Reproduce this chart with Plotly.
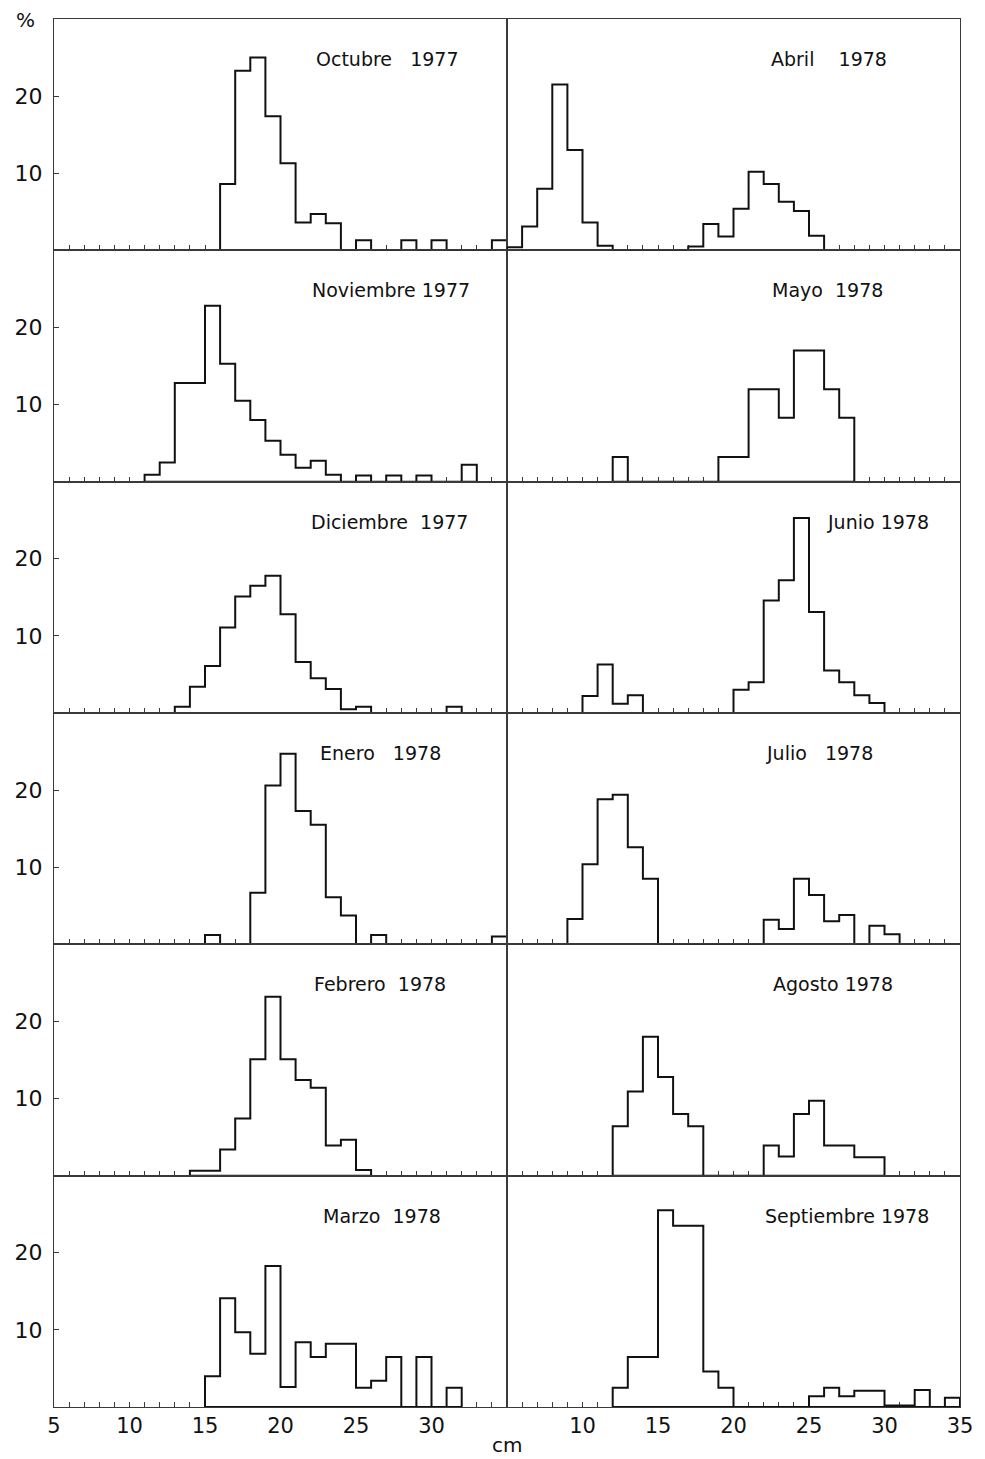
import plotly.graph_objects as go
from plotly.subplots import make_subplots

# Length-frequency distributions (% per 1-cm class).
# Each series starts at the lower edge of its first class (cm).
octubre_1977_start = 16
octubre_1977 = [8.6, 23.3, 25.0, 17.4, 11.3, 3.6, 4.7, 3.5, 0, 1.3, 0, 0, 1.3, 0, 1.3, 0, 0, 0, 1.3]

noviembre_1977_start = 11
noviembre_1977 = [0.9, 2.5, 12.8, 12.8, 22.8, 15.3, 10.5, 8.0, 5.3, 3.5, 1.8, 2.7, 0.9,
                  0, 0.8, 0, 0.8, 0, 0.8, 0, 0, 2.2]

diciembre_1977_start = 13
diciembre_1977 = [0.8, 3.4, 6.1, 11.1, 15.1, 16.5, 17.8, 12.8, 6.6, 4.5, 3.1, 0.5, 0.8,
                  0, 0, 0, 0, 0, 0.8]

enero_1978_start = 15
enero_1978 = [1.2, 0, 0, 6.7, 20.6, 24.7, 17.3, 15.5, 6.1, 3.75, 0, 1.2,
              0, 0, 0, 0, 0, 0, 0, 1.0]

febrero_1978_start = 14
febrero_1978 = [0.65, 0.65, 3.4, 7.4, 15.1, 23.2, 15.1, 12.4, 11.4, 3.9, 4.65, 0.75]

marzo_1978_start = 15
marzo_1978 = [4.0, 14.1, 9.7, 6.9, 18.3, 2.6, 8.4, 6.5, 8.2, 8.2, 2.5, 3.4, 6.5, 0, 6.5, 0, 2.5]

abril_1978_start = 5
abril_1978 = [0.4, 3.1, 8.0, 21.5, 13.0, 3.6, 0.6, 0, 0, 0, 0, 0,
              0.5, 3.4, 1.8, 5.4, 10.2, 8.6, 6.3, 5.1, 1.9]

mayo_1978_start = 12
mayo_1978 = [3.2, 0, 0, 0, 0, 0, 0, 3.2, 3.2, 12.0, 12.0, 8.3, 17.0, 17.0, 12.0, 8.3]

junio_1978_start = 10
junio_1978 = [2.2, 6.3, 1.2, 2.3, 0, 0, 0, 0, 0, 0,
              3.0, 4.0, 14.6, 17.2, 25.3, 13.1, 5.5, 4.0, 2.3, 1.3]

julio_1978_start = 9
julio_1978 = [3.3, 10.4, 18.8, 19.4, 12.6, 8.5, 0, 0, 0, 0, 0, 0, 0,
              3.2, 2.0, 8.5, 6.4, 3.0, 3.8, 0, 2.4, 1.3]

agosto_1978_start = 12
agosto_1978 = [6.4, 10.9, 18.0, 12.8, 8.0, 6.4, 0, 0, 0, 0,
               3.9, 2.5, 8.0, 9.7, 3.9, 3.9, 2.4, 2.4]

septiembre_1978_start = 12
septiembre_1978 = [2.5, 6.5, 6.5, 25.5, 23.5, 23.5, 4.6, 2.5, 0, 0, 0, 0, 0,
                   1.4, 2.5, 1.4, 2.1, 2.1, 0.2, 0.2, 2.2, 0, 1.2]

NB = "\u00a0"
left_titles = ["Octubre" + NB * 3 + "1977", "Noviembre" + NB + "1977", "Diciembre" + NB * 2 + "1977",
               "Enero" + NB * 3 + "1978", "Febrero" + NB * 2 + "1978", "Marzo" + NB * 2 + "1978"]
right_titles = ["Abril" + NB * 4 + "1978", "Mayo" + NB * 2 + "1978", "Junio" + NB + "1978",
                "Julio" + NB * 3 + "1978", "Agosto" + NB + "1978", "Septiembre" + NB + "1978"]

left_series = [(octubre_1977_start, octubre_1977), (noviembre_1977_start, noviembre_1977),
               (diciembre_1977_start, diciembre_1977), (enero_1978_start, enero_1978),
               (febrero_1978_start, febrero_1978), (marzo_1978_start, marzo_1978)]
right_series = [(abril_1978_start, abril_1978), (mayo_1978_start, mayo_1978),
                (junio_1978_start, junio_1978), (julio_1978_start, julio_1978),
                (agosto_1978_start, agosto_1978), (septiembre_1978_start, septiembre_1978)]

# horizontal centre (cm) of each panel caption
left_title_x = [27.1, 27.3, 27.2, 26.6, 26.6, 26.7]
right_title_x = [26.3, 26.2, 29.6, 25.7, 26.6, 27.5]

x_left_ticks = [5, 10, 15, 20, 25, 30]
x_right_ticks = [10, 15, 20, 25, 30, 35]
y_ticks = [10, 20]

FONT = "DejaVu Sans"
INK = "#111111"
AXIS = "#3a3a3a"


def outline(start, values):
    """Closed step outline of a histogram with 1-cm classes."""
    edges = [start + i for i in range(len(values) + 1)]
    xs = [edges[0]] + edges[:-1] + [edges[-1], edges[0]]
    ys = [0] + list(values) + [0, 0]
    return xs, ys


fig = make_subplots(rows=6, cols=2, horizontal_spacing=0, vertical_spacing=0)

for col, series, titles, tx in ((1, left_series, left_titles, left_title_x),
                                (2, right_series, right_titles, right_title_x)):
    for i, (start, vals) in enumerate(series):
        row = i + 1
        xs, ys = outline(start, vals)
        fig.add_trace(go.Scatter(x=xs, y=ys, mode="lines", line=dict(shape="hv", color=INK, width=2),
                                 fill="toself", fillcolor="white", hoverinfo="skip", showlegend=False),
                      row=row, col=col)
        fig.add_annotation(text=titles[i], x=tx[i], y=24.8, xanchor="center", yanchor="middle",
                           showarrow=False, font=dict(family=FONT, size=19, color=INK),
                           row=row, col=col)
        bottom = row == 6
        fig.update_xaxes(row=row, col=col, range=[5, 35], showgrid=False, zeroline=False,
                         showline=True, linecolor=AXIS, linewidth=1, mirror=True,
                         tickmode="array", tickvals=x_left_ticks if col == 1 else x_right_ticks,
                         ticks="inside", ticklen=5, tickcolor=AXIS, tickwidth=1,
                         showticklabels=bottom, layer="below traces",
                         tickfont=dict(family=FONT, size=21, color=INK),
                         minor=dict(tickmode="linear", tick0=5, dtick=1, ticks="inside",
                                    ticklen=5, tickcolor=AXIS, tickwidth=1))
        fig.update_yaxes(row=row, col=col, range=[0, 30], showgrid=False, zeroline=False,
                         showline=True, linecolor=AXIS, linewidth=1, mirror=True,
                         tickmode="array", tickvals=y_ticks,
                         ticks="inside" if col == 1 else "", ticklen=5, tickcolor=AXIS,
                         showticklabels=(col == 1), layer="below traces",
                         ticklabelstandoff=6,
                         tickfont=dict(family=FONT, size=22, color=INK))

fig.add_annotation(text="%", xref="paper", yref="paper", x=-0.032, y=0.999, xanchor="center",
                   yanchor="middle", showarrow=False, font=dict(family=FONT, size=20, color=INK))
fig.add_annotation(text="cm", xref="paper", yref="paper", x=0.5, y=-0.0272, xanchor="center",
                   yanchor="middle", showarrow=False, font=dict(family=FONT, size=20, color=INK))

fig.update_layout(width=985, height=1459, margin=dict(l=54, r=20, t=19, b=52),
                  paper_bgcolor="white", plot_bgcolor="white", showlegend=False)

fig.write_html("out.html")
